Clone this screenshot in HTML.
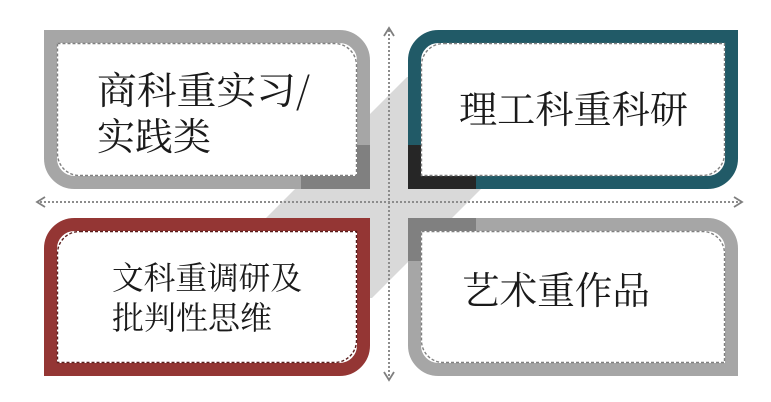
<!DOCTYPE html>
<html><head><meta charset="utf-8"><style>
html,body{margin:0;padding:0;background:#fff;}
svg{display:block;}
text{font-family:"Noto Serif CJK SC","Liberation Serif",serif;fill:#1a1a1a;}
</style></head><body>
<svg width="771" height="402" viewBox="0 0 771 402" xmlns="http://www.w3.org/2000/svg">
<defs>
<marker id="a" markerWidth="12" markerHeight="12" refX="10" refY="6" orient="auto" markerUnits="userSpaceOnUse">
<path d="M2,1 L10,6 L2,11" fill="none" stroke="#7f7f7f" stroke-width="1.8"/>
</marker>
</defs>
<polygon points="407,77 560,77 560,110 372,298 300,298 263,221" fill="#d9d9d9"/>

<path d="M50.5,36.5 H339.5 A24,24 0 0 1 363.5,60.5 V182.5 H74.5 A24,24 0 0 1 50.5,158.5 Z" fill="#fff" stroke="#a6a6a6" stroke-width="13"/>
<path d="M363.5,145 V182.5 H301" fill="none" stroke="#808080" stroke-width="13"/>
<path d="M57.5,43.5 H334 A22,22 0 0 1 356.5,66 V175.5 H80 A22,22 0 0 1 57.5,153 Z" fill="none" stroke="#808080" stroke-width="1.4" stroke-dasharray="3,2"/>

<path d="M438.5,36.5 H731.5 V158.5 A24,24 0 0 1 707.5,182.5 H414.5 V60.5 A24,24 0 0 1 438.5,36.5 Z" fill="#fff" stroke="#215a67" stroke-width="13"/>
<path d="M414.5,145 V182.5 H476" fill="none" stroke="#262626" stroke-width="13"/>
<path d="M444,43.5 H724.5 V153 A22,22 0 0 1 702,175.5 H421.5 V66 A22,22 0 0 1 444,43.5 Z" fill="none" stroke="#808080" stroke-width="1.4" stroke-dasharray="3,2"/>

<path d="M74.5,224.5 H363.5 V345.5 A24,24 0 0 1 339.5,369.5 H50.5 V248.5 A24,24 0 0 1 74.5,224.5 Z" fill="#fff" stroke="#943634" stroke-width="13"/>
<path d="M80,231.5 H356.5 V340 A22,22 0 0 1 334,362.5 H57.5 V254 A22,22 0 0 1 80,231.5 Z" fill="none" stroke="#5a1f1e" stroke-width="1.4" stroke-dasharray="3,2"/>

<path d="M414.5,224.5 H707.5 A24,24 0 0 1 731.5,248.5 V369.5 H438.5 A24,24 0 0 1 414.5,345.5 Z" fill="#fff" stroke="#a6a6a6" stroke-width="13"/>
<path d="M414.5,261 V224.5 H476" fill="none" stroke="#808080" stroke-width="13"/>
<path d="M421.5,231.5 H702 A22,22 0 0 1 724.5,254 V362.5 H444 A22,22 0 0 1 421.5,340 Z" fill="none" stroke="#808080" stroke-width="1.4" stroke-dasharray="3,2"/>

<line x1="389" y1="380" x2="389" y2="28" stroke="#8c8c8c" stroke-width="2" stroke-dasharray="2,2" marker-end="url(#a)"/>
<line x1="389" y1="28" x2="389" y2="380" stroke="none" marker-end="url(#a)"/>
<line x1="742" y1="202" x2="37" y2="202" stroke="#8c8c8c" stroke-width="2" stroke-dasharray="2,2" marker-end="url(#a)"/>
<line x1="37" y1="202" x2="742" y2="202" stroke="none" marker-end="url(#a)"/>

<text x="97" y="104" font-size="38" textLength="213" lengthAdjust="spacingAndGlyphs">商科重实习/</text>
<text x="97" y="150" font-size="38">实践类</text>
<text x="459" y="123" font-size="38" textLength="229" lengthAdjust="spacingAndGlyphs">理工科重科研</text>
<text x="112" y="289" font-size="32" textLength="190" lengthAdjust="spacingAndGlyphs">文科重调研及</text>
<text x="112" y="329" font-size="32">批判性思维</text>
<text x="462" y="304" font-size="38" textLength="188" lengthAdjust="spacingAndGlyphs">艺术重作品</text>
</svg>
</body></html>
